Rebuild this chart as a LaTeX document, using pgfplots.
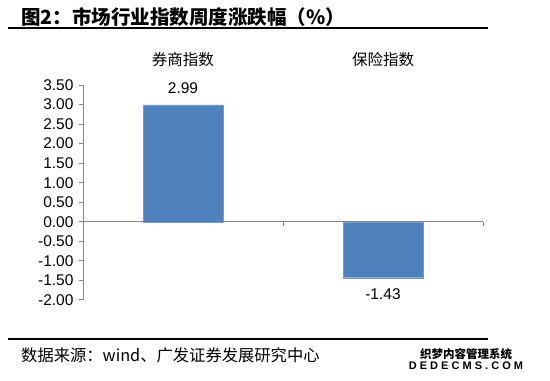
\documentclass[border=0pt]{standalone}
\usepackage{fontspec}
\setmainfont{Liberation Sans}
\newfontfamily\cjk{Noto Sans CJK SC}
\usepackage{pgfplots}
\pgfplotsset{compat=1.18}
\definecolor{barblue}{HTML}{4F81BD}
\definecolor{axgray}{HTML}{878787}
\begin{document}
\begin{tikzpicture}
\path[use as bounding box] (0,0) rectangle (550bp,381bp);
\node[anchor=west,inner sep=0pt] at (21bp,364bp) {\fontsize{19.5bp}{21bp}\selectfont\cjk\bfseries 图2：市场行业指数周度涨跌幅（\%）};
\draw[line width=2bp] (8bp,353bp) -- (488bp,353bp);
\draw[line width=1.5bp] (8bp,42bp) -- (488bp,42bp);
\node[anchor=west,inner sep=0pt] at (21bp,26bp) {\fontsize{16.3bp}{18bp}\selectfont\cjk 数据来源：wind、广发证券发展研究中心};
\node[inner sep=0pt,align=center] at (466bp,22bp) {\fontsize{11.5bp}{14bp}\selectfont\cjk\bfseries 织梦内容管理系统\\[-1bp]\fontsize{11bp}{13bp}\selectfont\bfseries D E D E C M S . C O M};
\begin{axis}[
  scale only axis,
  width=400bp, height=215bp,
  at={(83bp,81bp)}, anchor=south west,
  xmin=-0.5, xmax=1.5,
  ymin=-2, ymax=3.5,
  axis y line*=left,
  axis x line*=middle,
  axis line style={axgray, line width=1bp},
  xtick={-0.5,0.5,1.5},
  xticklabels={},
  ytick={-2,-1.5,-1,-0.5,0,0.5,1,1.5,2,2.5,3,3.5},
  tick align=outside,
  major tick length=4bp,
  tick style={axgray, line width=1bp},
  yticklabel style={font=\fontsize{15.5bp}{17bp}\selectfont, text=black, xshift=-2bp},
  yticklabel style={/pgf/number format/.cd, fixed, fixed zerofill, precision=2, assume math mode=true},
  ybar,
  bar width=80bp,
  bar shift=0pt,
  nodes near coords,
  nodes near coords style={font=\fontsize{15.5bp}{17bp}\selectfont, inner xsep=0pt, inner ysep=11bp},
  nodes near coords style={/pgf/number format/.cd, fixed, fixed zerofill, precision=2, assume math mode=true},
  clip=false,
]
\addplot[fill=barblue, draw=barblue!80!white, nodes near coords align={vertical}] coordinates {(0,2.99) (1,-1.43)};
\node[font=\fontsize{15.5bp}{17bp}\selectfont\cjk] at (axis cs:0,3.5) [yshift=25bp] {券商指数};
\node[font=\fontsize{15.5bp}{17bp}\selectfont\cjk] at (axis cs:1,3.5) [yshift=25bp] {保险指数};
\end{axis}
\end{tikzpicture}
\end{document}
